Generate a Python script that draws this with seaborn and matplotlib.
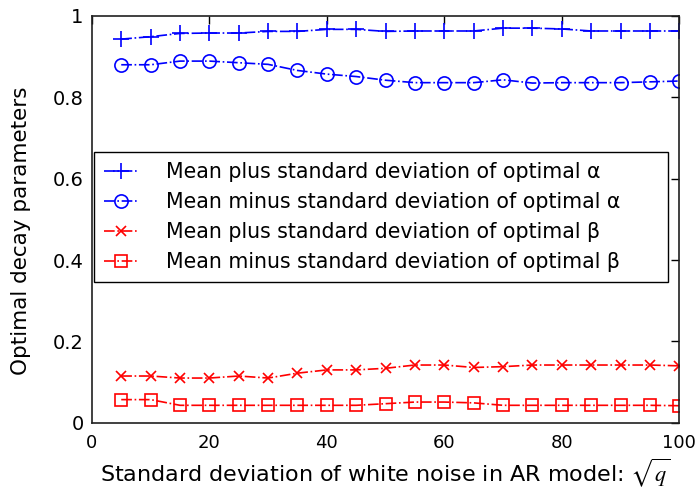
import numpy as np
import pandas as pd
import matplotlib
matplotlib.use("Agg")
import matplotlib.pyplot as plt
import seaborn as sns

x_vals = [5, 10, 15, 20, 25, 30, 35, 40, 45, 50, 55, 60, 65, 70, 75, 80, 85, 90, 95, 100]
alpha_plus = [0.943, 0.949, 0.957, 0.958, 0.958, 0.962, 0.962, 0.967, 0.967, 0.962,
              0.963, 0.963, 0.963, 0.970, 0.970, 0.968, 0.963, 0.963, 0.963, 0.963]
alpha_minus = [0.880, 0.880, 0.889, 0.889, 0.885, 0.881, 0.866, 0.857, 0.851, 0.842,
               0.836, 0.836, 0.836, 0.843, 0.835, 0.836, 0.836, 0.836, 0.838, 0.840]
beta_plus = [0.115, 0.115, 0.110, 0.110, 0.115, 0.110, 0.122, 0.130, 0.130, 0.134,
             0.142, 0.142, 0.136, 0.138, 0.142, 0.142, 0.142, 0.142, 0.142, 0.140]
beta_minus = [0.057, 0.057, 0.043, 0.043, 0.043, 0.043, 0.043, 0.043, 0.043, 0.047,
              0.051, 0.051, 0.049, 0.043, 0.043, 0.043, 0.043, 0.043, 0.043, 0.042]
labels = ["Mean plus standard deviation of optimal α",
          "Mean minus standard deviation of optimal α",
          "Mean plus standard deviation of optimal β",
          "Mean minus standard deviation of optimal β"]
x_ticks = [0, 20, 40, 60, 80, 100]
y_ticks = [0, 0.2, 0.4, 0.6, 0.8, 1.0]
y_ticklabels = ["0", "0.2", "0.4", "0.6", "0.8", "1"]

sns.set_style("white")
plt.rcParams['font.family'] = ['DejaVu Sans']
plt.rcParams['mathtext.fontset'] = 'stix'
plt.rcParams['text.color'] = 'black'
plt.rcParams['axes.labelcolor'] = 'black'

fig = plt.figure(figsize=(6.96, 4.98), dpi=100)
ax = fig.add_axes([0.132, 0.151, 0.844, 0.817])

series = [alpha_plus, alpha_minus, beta_plus, beta_minus]
colors = ["#0000ff", "#0000ff", "#ff0000", "#ff0000"]
markers = ["+", "o", "x", "s"]
msizes = [11, 9.5, 7, 9]
for vals, lab, c, m, ms in zip(series, labels, colors, markers, msizes):
    df = pd.DataFrame({"x": x_vals, "y": vals})
    sns.lineplot(data=df, x="x", y="y", ax=ax, color=c, marker=m, markersize=ms,
                 markerfacecolor="none", markeredgecolor=c, markeredgewidth=1.2,
                 linestyle="-.", linewidth=1.2, label=lab)

ax.set_xlim(0, 100)
ax.set_ylim(0, 1)
ax.set_xticks(x_ticks)
ax.set_yticks(y_ticks)
ax.set_yticklabels(y_ticklabels)
ax.tick_params(direction="in", top=True, right=True, length=6, width=1,
               labelsize=14, colors="black", pad=6)
ax.tick_params(axis="x", pad=8, labelsize=13)
for sp in ax.spines.values():
    sp.set_color("#202020")
    sp.set_linewidth(1.2)
    sp.set_visible(True)

ax.set_xlabel(r"Standard deviation of white noise in AR model: $\sqrt{q}$", fontsize=16, labelpad=3)
ax.set_ylabel("Optimal decay parameters", fontsize=15.5)
ax.yaxis.set_label_coords(-0.104, 0.472)

leg = ax.legend(loc="upper left", bbox_to_anchor=(0.003, 0.666, 0.978, 0.0), mode="expand",
                fontsize=14.8, frameon=True, fancybox=False, edgecolor="black", framealpha=1,
                borderpad=0.48, labelspacing=0.49, handlelength=1.7, handletextpad=1.36,
                borderaxespad=0)
leg.get_frame().set_linewidth(1.0)

fig.savefig("out.png", dpi=100)
